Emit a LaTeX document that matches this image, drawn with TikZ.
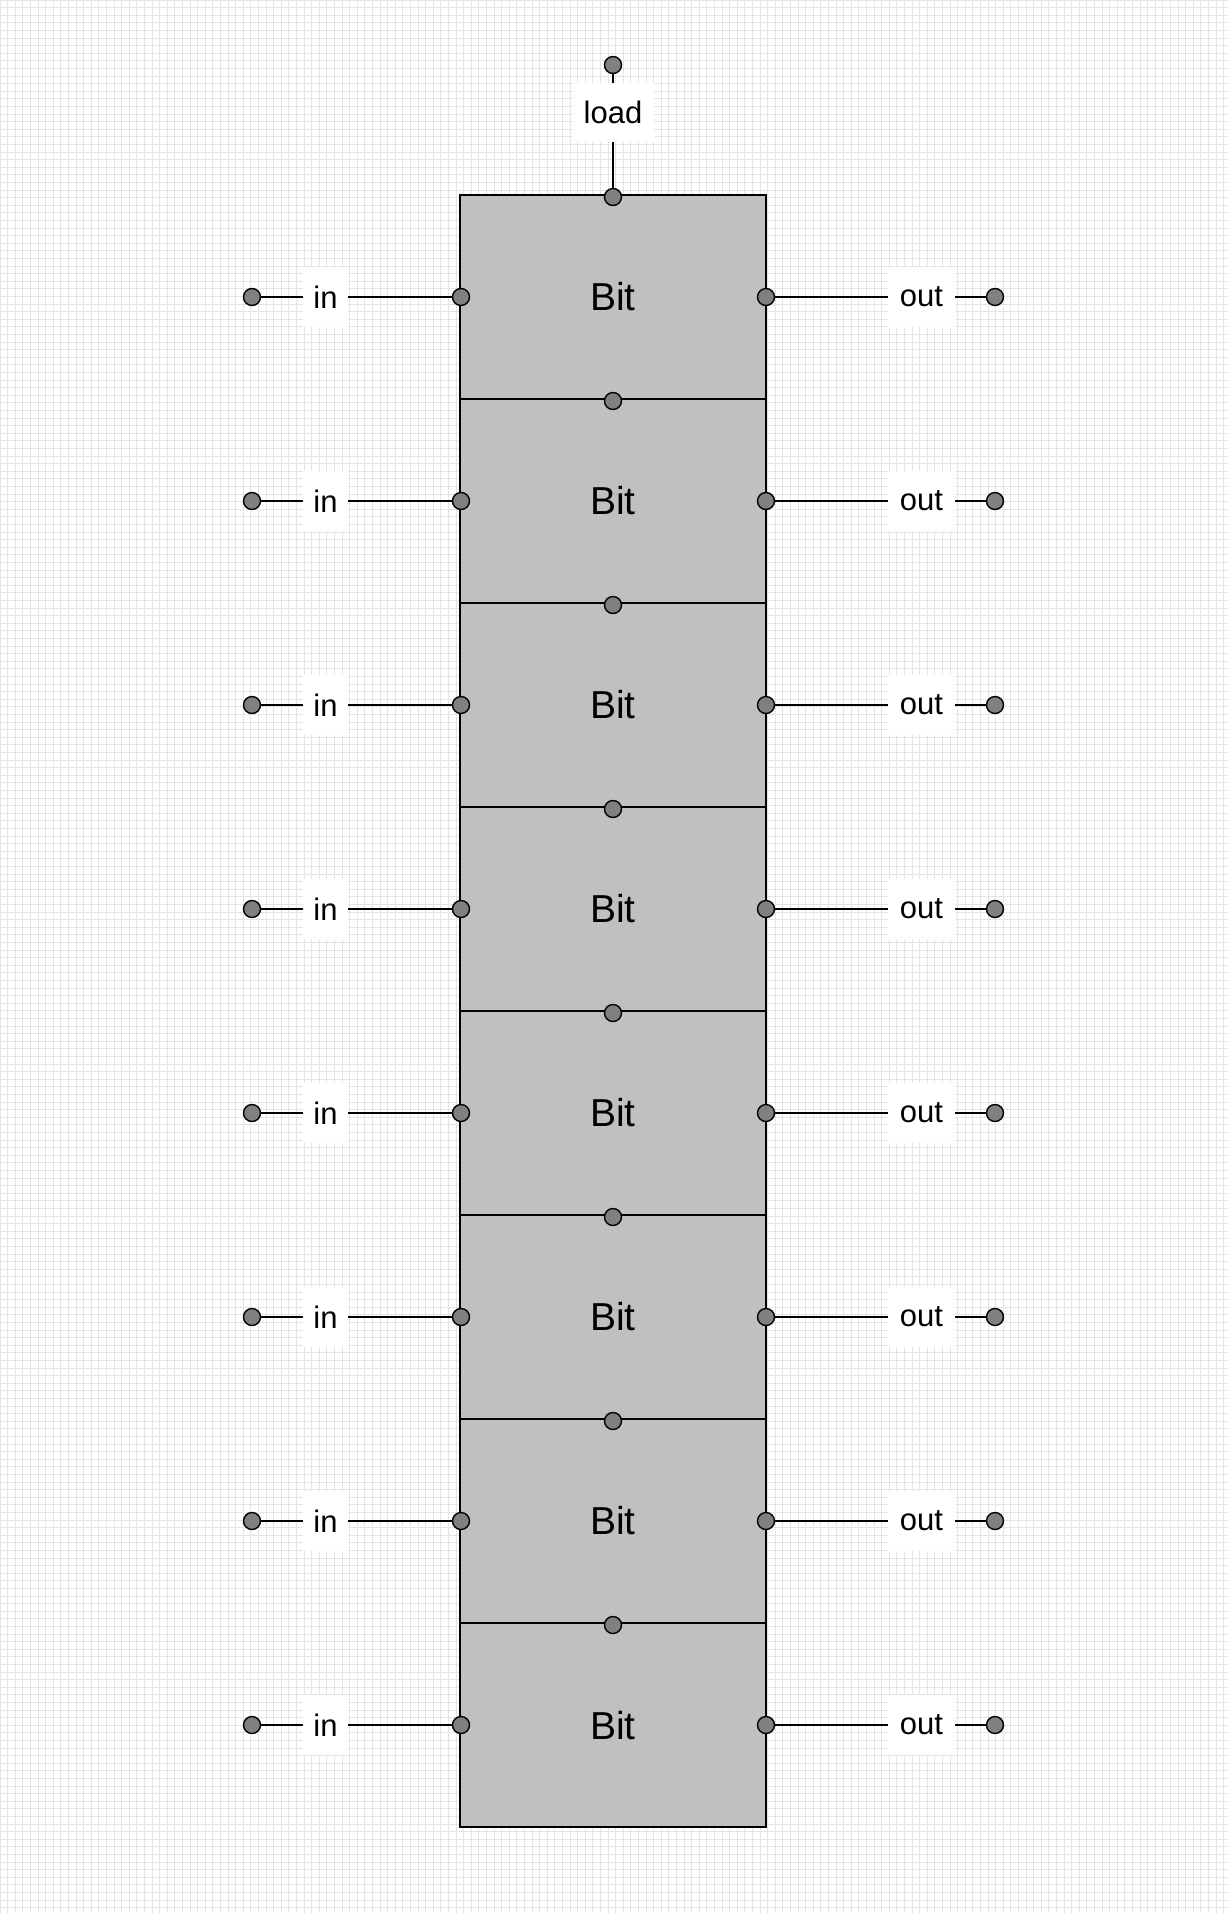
\documentclass[tikz,border=0pt]{standalone}
\usepackage{fontspec}
\setmainfont{Liberation Sans}
\definecolor{boxgray}{HTML}{C0C0C0}
\definecolor{portgray}{HTML}{808080}
\definecolor{gridgray}{HTML}{E4E4E4}
\begin{document}
\begin{tikzpicture}[x=0.5pt,y=-0.5pt,
  bitbox/.style={draw=black, fill=boxgray, line width=1pt, minimum width=153pt, minimum height=102pt, inner sep=0pt, font=\fontsize{19.5}{22}\selectfont},
  port/.style={circle, draw=black, fill=portgray, line width=0.7pt, minimum size=8.5pt, inner sep=0pt},
  lbl/.style={fill=white, inner sep=0pt, font=\fontsize{15.5}{18}\selectfont},
  wire/.style={draw=black, line width=1pt}]
\useasboundingbox (0,0) rectangle (1228,1913);
\fill[white] (0,0) rectangle (1228,1913);
\begin{scope}
\clip (0,0) rectangle (1228,1913);
\foreach \i in {0,...,162} {
  \draw[gridgray, line width=0.35pt] ({\i*7.6},0) -- ({\i*7.6},1913);
}
\foreach \i in {0,...,252} {
  \draw[gridgray, line width=0.35pt] (0,{\i*7.6}) -- (1228,{\i*7.6});
}
\end{scope}
% bits
\foreach \i in {1,...,8} {
  \pgfmathsetmacro{\yc}{297+204*(\i-1)}
  \node[bitbox] (b\i) at (613,\yc) {Bit};
}
\foreach \i in {1,...,8} {
  \pgfmathsetmacro{\yc}{297+204*(\i-1)}
  \pgfmathsetmacro{\yt}{297+204*(\i-1)-102+2}
  \node[port] (tp\i) at (613,\yt) {};
  \node[port] (lp\i) at (461,\yc) {};
  \node[port] (rp\i) at (766,\yc) {};
  \node[port] (ein\i) at (252,\yc) {};
  \node[port] (eout\i) at (995,\yc) {};
  \node[lbl, minimum width=22.5pt, minimum height=30pt] (lin\i) at (325.5,\yc) {in};
  \node[lbl, minimum width=33.5pt, minimum height=30pt] (lout\i) at (921.5,\yc) {out};
  \draw[wire] (ein\i) -- (lin\i) -- (lp\i);
  \draw[wire] (rp\i) -- (lout\i) -- (eout\i);
}
% load
\node[port] (eload) at (613,65) {};
\node[lbl, minimum width=40.5pt, minimum height=29.5pt] (lload) at (613,112.5) {load};
\draw[wire] (eload) -- (lload) -- (tp1);
\end{tikzpicture}
\end{document}
